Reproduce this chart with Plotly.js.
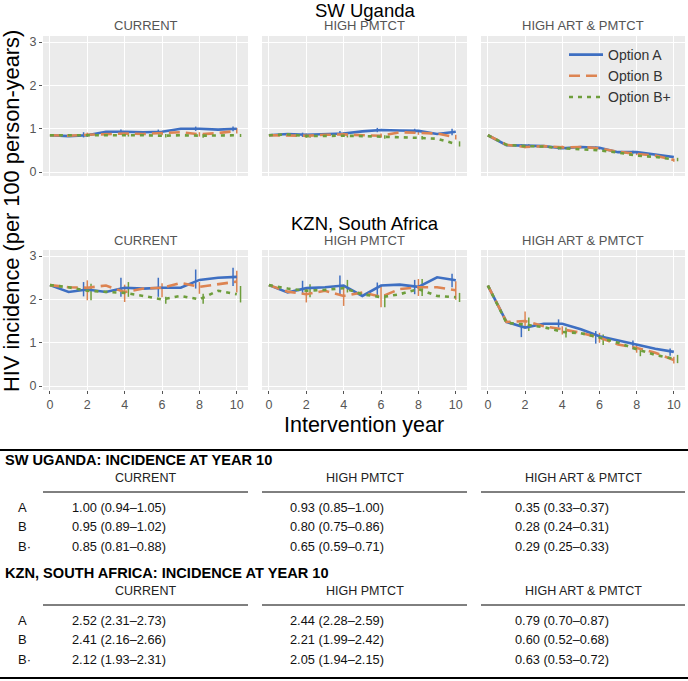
<!DOCTYPE html>
<html>
<head>
<meta charset="utf-8">
<script src="https://cdn.plot.ly/plotly-3.0.1.min.js"></script>
<style>html,body{margin:0;padding:0;background:#fff;}#chart{width:688px;height:681px;}</style>
</head>
<body>
<div id="chart"></div>
<script>
// ---------------- DATA ----------------
const years = [0,1,2,3,4,5,6,7,8,9,10];
const ciYears = [2,4,6,8,10];
const regionTitles = ['SW Uganda', 'KZN, South Africa'];
const scenarioTitles = ['CURRENT', 'HIGH PMTCT', 'HIGH ART & PMTCT'];
const optionNames = ['Option A', 'Option B', 'Option B+'];
const yTicks = [0,1,2,3];
const xTicks = [0,2,4,6,8,10];

// SW Uganda – CURRENT
const swCurA  = [0.85,0.83,0.85,0.93,0.93,0.92,0.93,1.00,1.00,0.98,1.00];
const swCurB  = [0.85,0.84,0.86,0.88,0.89,0.88,0.90,0.92,0.87,0.90,0.95];
const swCurBp = [0.85,0.85,0.86,0.86,0.86,0.85,0.84,0.85,0.84,0.85,0.85];
const swCurA_lo  = [0.80,0.88,0.88,0.95,0.94], swCurA_hi  = [0.92,0.98,0.98,1.05,1.05];
const swCurB_lo  = [0.81,0.84,0.85,0.82,0.89], swCurB_hi  = [0.91,0.94,0.95,0.92,1.02];
const swCurBp_lo = [0.83,0.82,0.80,0.79,0.81], swCurBp_hi = [0.89,0.90,0.88,0.88,0.88];
// SW Uganda – HIGH PMTCT
const swPmA  = [0.85,0.88,0.86,0.88,0.89,0.94,0.97,0.96,0.95,0.88,0.93];
const swPmB  = [0.85,0.85,0.84,0.86,0.87,0.85,0.84,0.92,0.91,0.89,0.80];
const swPmBp = [0.85,0.87,0.83,0.84,0.84,0.83,0.82,0.80,0.79,0.77,0.65];
const swPmA_lo  = [0.81,0.85,0.92,0.90,0.85], swPmA_hi  = [0.91,0.95,1.02,1.00,1.00];
const swPmB_lo  = [0.79,0.82,0.79,0.86,0.75], swPmB_hi  = [0.89,0.92,0.89,0.96,0.86];
const swPmBp_lo = [0.79,0.80,0.77,0.75,0.59], swPmBp_hi = [0.87,0.88,0.85,0.83,0.71];
// SW Uganda – HIGH ART & PMTCT
const swArtA  = [0.85,0.62,0.61,0.60,0.55,0.58,0.56,0.46,0.46,0.40,0.35];
const swArtB  = [0.85,0.63,0.58,0.60,0.57,0.58,0.55,0.47,0.42,0.38,0.28];
const swArtBp = [0.85,0.63,0.60,0.59,0.55,0.52,0.50,0.45,0.38,0.35,0.29];
const swArtA_lo  = [0.58,0.52,0.53,0.43,0.33], swArtA_hi  = [0.64,0.58,0.59,0.49,0.37];
const swArtB_lo  = [0.55,0.54,0.52,0.39,0.24], swArtB_hi  = [0.62,0.61,0.58,0.45,0.31];
const swArtBp_lo = [0.57,0.52,0.47,0.35,0.25], swArtBp_hi = [0.64,0.58,0.54,0.41,0.33];
// KZN – CURRENT
const kzCurA  = [2.33,2.17,2.23,2.17,2.27,2.25,2.27,2.27,2.45,2.50,2.52];
const kzCurB  = [2.33,2.28,2.27,2.32,2.17,2.25,2.27,2.38,2.29,2.35,2.41];
const kzCurBp = [2.33,2.28,2.20,2.18,2.15,2.08,2.00,2.08,2.00,2.20,2.12];
const kzCurA_lo  = [2.07,2.06,2.06,2.25,2.31], kzCurA_hi  = [2.40,2.50,2.50,2.69,2.73];
const kzCurB_lo  = [1.98,1.94,2.05,2.13,2.16], kzCurB_hi  = [2.44,2.34,2.37,2.40,2.66];
const kzCurBp_lo = [1.98,2.06,1.90,1.90,1.93], kzCurBp_hi = [2.36,2.40,2.06,2.13,2.31];
// KZN – HIGH PMTCT
const kzPmA  = [2.33,2.16,2.26,2.28,2.32,2.08,2.32,2.34,2.29,2.51,2.44];
const kzPmB  = [2.33,2.18,2.12,2.20,2.08,2.16,2.06,2.24,2.28,2.28,2.21];
const kzPmBp = [2.33,2.25,2.20,2.22,2.26,2.12,2.05,2.12,2.24,2.08,2.05];
const kzPmA_lo  = [2.12,2.08,2.08,2.12,2.28], kzPmA_hi  = [2.43,2.55,2.39,2.45,2.59];
const kzPmB_lo  = [1.93,1.85,1.82,2.08,1.99], kzPmB_hi  = [2.28,2.32,2.32,2.47,2.42];
const kzPmBp_lo = [2.05,2.16,1.82,2.08,1.94], kzPmBp_hi = [2.35,2.45,2.12,2.47,2.15];
// KZN – HIGH ART & PMTCT
const kzArtA  = [2.32,1.48,1.35,1.44,1.44,1.31,1.15,1.05,0.96,0.86,0.79];
const kzArtB  = [2.32,1.48,1.50,1.38,1.31,1.23,1.12,0.96,0.88,0.77,0.60];
const kzArtBp = [2.32,1.46,1.42,1.36,1.25,1.22,1.12,1.00,0.85,0.72,0.63];
const kzArtA_lo  = [1.13,1.35,0.98,0.85,0.70], kzArtA_hi  = [1.46,1.54,1.27,1.05,0.87];
const kzArtB_lo  = [1.35,1.19,1.00,0.77,0.52], kzArtB_hi  = [1.72,1.38,1.23,0.96,0.68];
const kzArtBp_lo = [1.27,1.12,0.95,0.69,0.53], kzArtBp_hi = [1.58,1.35,1.19,0.88,0.72];

// Table (incidence at year 10)
const tableRowLabels = ['A', 'B', 'B\u00b7'];
const tableHeadings = ['SW UGANDA: INCIDENCE AT YEAR 10', 'KZN, SOUTH AFRICA: INCIDENCE AT YEAR 10'];
const swTableCurrent = ['1.00 (0.94\u20131.05)', '0.95 (0.89\u20131.02)', '0.85 (0.81\u20130.88)'];
const swTablePmtct   = ['0.93 (0.85\u20131.00)', '0.80 (0.75\u20130.86)', '0.65 (0.59\u20130.71)'];
const swTableArt     = ['0.35 (0.33\u20130.37)', '0.28 (0.24\u20130.31)', '0.29 (0.25\u20130.33)'];
const kzTableCurrent = ['2.52 (2.31\u20132.73)', '2.41 (2.16\u20132.66)', '2.12 (1.93\u20132.31)'];
const kzTablePmtct   = ['2.44 (2.28\u20132.59)', '2.21 (1.99\u20132.42)', '2.05 (1.94\u20132.15)'];
const kzTableArt     = ['0.79 (0.70\u20130.87)', '0.60 (0.52\u20130.68)', '0.63 (0.53\u20130.72)'];

// ---------------- STYLE / LAYOUT ----------------
const W = 688, H = 681;
const FONT = 'Liberation Sans, Arial, Helvetica, sans-serif';
const colors = ['#3e6fc2', '#dd8452', '#6e9e3c'];
const dashes = ['solid', '11px,6px', '4px,5px'];
const dodge = [-0.2, 0, 0.2];
const px = v => v / W;
const py = v => 1 - v / H;

const panelX = [[43, 248], [262, 467], [481, 685]];
const panelY = [[36, 176], [250, 390]];
const stripY = [26, 240];
const regionY = [10.5, 223];

const panels = [
  {s: [swCurA, swCurB, swCurBp], lo: [swCurA_lo, swCurB_lo, swCurBp_lo], hi: [swCurA_hi, swCurB_hi, swCurBp_hi]},
  {s: [swPmA, swPmB, swPmBp], lo: [swPmA_lo, swPmB_lo, swPmBp_lo], hi: [swPmA_hi, swPmB_hi, swPmBp_hi]},
  {s: [swArtA, swArtB, swArtBp], lo: [swArtA_lo, swArtB_lo, swArtBp_lo], hi: [swArtA_hi, swArtB_hi, swArtBp_hi]},
  {s: [kzCurA, kzCurB, kzCurBp], lo: [kzCurA_lo, kzCurB_lo, kzCurBp_lo], hi: [kzCurA_hi, kzCurB_hi, kzCurBp_hi]},
  {s: [kzPmA, kzPmB, kzPmBp], lo: [kzPmA_lo, kzPmB_lo, kzPmBp_lo], hi: [kzPmA_hi, kzPmB_hi, kzPmBp_hi]},
  {s: [kzArtA, kzArtB, kzArtBp], lo: [kzArtA_lo, kzArtB_lo, kzArtBp_lo], hi: [kzArtA_hi, kzArtB_hi, kzArtBp_hi]}
];

const traces = [];
const layout = {
  width: W, height: H,
  margin: {l: 0, r: 0, t: 0, b: 0},
  paper_bgcolor: '#ffffff',
  plot_bgcolor: '#ebebeb',
  font: {family: FONT, color: '#333'},
  showlegend: true,
  legend: {
    x: px(564), y: py(39), xanchor: 'left', yanchor: 'top',
    bgcolor: 'rgba(0,0,0,0)', borderwidth: 0,
    font: {family: FONT, size: 14, color: '#333'},
    tracegroupgap: 0, itemwidth: 34
  },
  annotations: [],
  shapes: []
};

panels.forEach((p, i) => {
  const row = Math.floor(i / 3), col = i % 3;
  const n = i + 1;
  const xa = 'x' + (n === 1 ? '' : n), ya = 'y' + (n === 1 ? '' : n);
  for (let k = 0; k < 3; k++) {
    const ex = [], ey = [];
    ciYears.forEach((yr, j) => {
      ex.push(yr + dodge[k], yr + dodge[k], null);
      ey.push(p.lo[k][j], p.hi[k][j], null);
    });
    traces.push({
      type: 'scatter', mode: 'lines', x: ex, y: ey, xaxis: xa, yaxis: ya,
      line: {color: colors[k], width: 1.5}, showlegend: false, hoverinfo: 'skip',
      legendgroup: optionNames[k], connectgaps: false
    });
  }
  for (let k = 0; k < 3; k++) {
    traces.push({
      type: 'scatter', mode: 'lines', x: years, y: p.s[k], xaxis: xa, yaxis: ya,
      name: optionNames[k], legendgroup: optionNames[k],
      showlegend: i === 2,
      line: {color: colors[k], width: 2.6, dash: dashes[k]}
    });
  }
  const axKeyX = 'xaxis' + (n === 1 ? '' : n), axKeyY = 'yaxis' + (n === 1 ? '' : n);
  layout[axKeyX] = {
    domain: [px(panelX[col][0]), px(panelX[col][1])],
    anchor: ya, range: [-0.37, 10.6], tickvals: xTicks,
    showgrid: true, gridcolor: '#ffffff', gridwidth: 1, zeroline: false, showline: false,
    ticks: row === 1 ? 'outside' : '', ticklen: 3, tickcolor: '#555',
    showticklabels: row === 1, tickfont: {family: FONT, size: 12.5, color: '#555'}
  };
  layout[axKeyY] = {
    domain: [py(panelY[row][1]), py(panelY[row][0])],
    anchor: xa, range: [-0.09, 3.14], tickvals: yTicks,
    showgrid: true, gridcolor: '#ffffff', gridwidth: 1, zeroline: false, showline: false,
    ticks: col === 0 ? 'outside' : '', ticklen: 3, tickcolor: '#555',
    showticklabels: col === 0, tickfont: {family: FONT, size: 12.5, color: '#555'}
  };
  layout.annotations.push({
    xref: 'paper', yref: 'paper', x: px((panelX[col][0] + panelX[col][1]) / 2), y: py(stripY[row]),
    xanchor: 'center', yanchor: 'middle', showarrow: false, text: scenarioTitles[col],
    font: {family: FONT, size: 13, color: '#555'}
  });
});

regionTitles.forEach((t, r) => {
  layout.annotations.push({
    xref: 'paper', yref: 'paper', x: px(365), y: py(regionY[r]), xanchor: 'center', yanchor: 'middle',
    showarrow: false, text: t, font: {family: FONT, size: 18.5, color: '#000'}
  });
});
layout.annotations.push({
  xref: 'paper', yref: 'paper', x: px(12), y: py(211), xanchor: 'center', yanchor: 'middle',
  showarrow: false, textangle: -90, text: 'HIV incidence (per 100 person-years)',
  font: {family: FONT, size: 21.8, color: '#000'}
});
layout.annotations.push({
  xref: 'paper', yref: 'paper', x: px(364), y: py(425), xanchor: 'center', yanchor: 'middle',
  showarrow: false, text: 'Intervention year', font: {family: FONT, size: 21.5, color: '#000'}
});

// ---------------- TABLE ----------------
function hline(x0, x1, y, w) {
  layout.shapes.push({type: 'line', xref: 'paper', yref: 'paper', x0: px(x0), x1: px(x1), y0: py(y), y1: py(y),
    line: {color: '#000', width: w}});
}
function txt(x, y, t, opts) {
  layout.annotations.push(Object.assign({
    xref: 'paper', yref: 'paper', x: px(x), y: py(y), xanchor: 'left', yanchor: 'middle', showarrow: false,
    text: t, font: {family: FONT, size: 12.5, color: '#111'}
  }, opts || {}));
}
hline(0, 688, 450, 2);
hline(0, 688, 678, 2);
const tableBlocks = [
  {top: 460, cols: [swTableCurrent, swTablePmtct, swTableArt]},
  {top: 573, cols: [kzTableCurrent, kzTablePmtct, kzTableArt]}
];
const valueX = [70, 288, 513];
tableBlocks.forEach((b, bi) => {
  txt(3, b.top, '<b>' + tableHeadings[bi] + '</b>', {font: {family: FONT, size: 14.6, color: '#000'}});
  scenarioTitles.forEach((s, c) => {
    txt((panelX[c][0] + panelX[c][1]) / 2, b.top + 18, s,
      {xanchor: 'center', font: {family: FONT, size: 12.5, color: '#222'}});
    hline(panelX[c][0], panelX[c][1], b.top + 32, 1);
  });
  tableRowLabels.forEach((lab, r) => {
    const yy = b.top + 47 + r * 19.5;
    txt(16, yy, lab, {font: {family: FONT, size: 13, color: '#111'}});
    b.cols.forEach((col, c) => txt(valueX[c], yy, col[r], {font: {family: FONT, size: 12.8, color: '#111'}}));
  });
});

Plotly.newPlot('chart', traces, layout, {displayModeBar: false, staticPlot: true});
</script>
</body>
</html>
